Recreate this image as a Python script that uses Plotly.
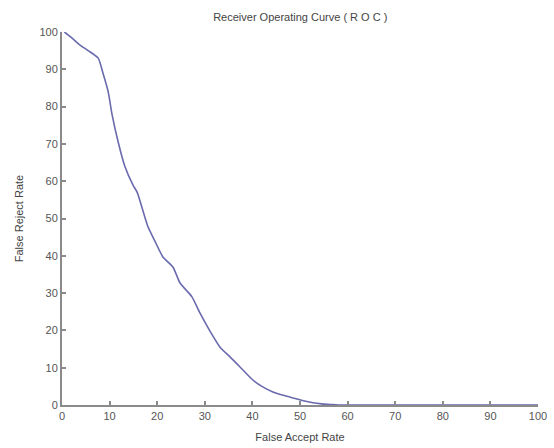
import plotly.graph_objects as go

far = [0.5, 2, 3.8, 5.5, 7.6, 8.6, 9.7, 10.5, 11.8, 13.2, 14.9, 15.8, 18, 19.5,
       21.2, 23.3, 24.8, 27.3, 29, 31, 33.2, 35.3, 37.4, 40.1, 42, 44.3, 46.5,
       48.5, 50.5, 52.7, 54.5, 56.3, 58, 60, 70, 80, 90, 100]
frr = [100, 98.5, 96.5, 95, 93, 89, 84, 78, 70.5, 64, 59, 57, 48, 44,
       39.7, 37, 32.7, 29, 24.6, 20, 15.5, 12.9, 10.2, 6.7, 5.0, 3.5, 2.6,
       1.9, 1.2, 0.6, 0.3, 0.15, 0, 0, 0, 0, 0, 0]
ticks = [0, 10, 20, 30, 40, 50, 60, 70, 80, 90, 100]

fig = go.Figure()
fig.add_trace(go.Scatter(x=far, y=frr, mode="lines", line_shape="spline",
                         line=dict(color="#6a6aae", width=1.6, smoothing=0.6),
                         showlegend=False))

axis_common = dict(range=[0, 100], tickvals=ticks, showgrid=False, zeroline=False,
                   showline=True, linecolor="#8a8a8a", linewidth=2, automargin=False,
                   ticks="inside", ticklen=4, tickcolor="#8a8a8a", tickwidth=1.5,
                   tickfont=dict(family="Arial, Liberation Sans", size=11, color="#555555"))
fig.update_xaxes(**axis_common,
                 title=dict(text="False Accept Rate", standoff=12,
                            font=dict(family="Arial, Liberation Sans", size=11, color="#444444")))
fig.update_yaxes(**axis_common,
                 title=dict(text="False Reject Rate", standoff=14,
                            font=dict(family="Arial, Liberation Sans", size=11, color="#444444")))

fig.update_layout(
    width=554, height=448,
    margin=dict(l=62, r=16, t=32, b=43),
    paper_bgcolor="white", plot_bgcolor="white",
    title=dict(text="Receiver Operating Curve ( R O C )", x=0.542, xanchor="center",
               y=0.962, yanchor="middle",
               font=dict(family="Arial, Liberation Sans", size=11, color="#444444")),
)

fig.write_html("out.html")
